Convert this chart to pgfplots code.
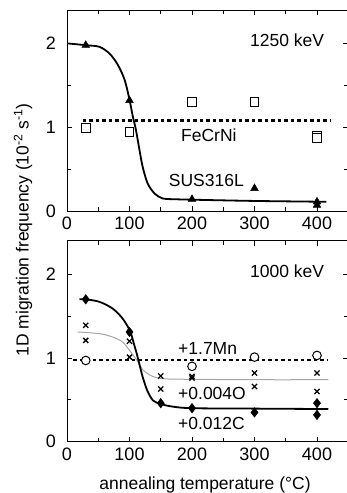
\documentclass[border=0pt]{standalone}
\usepackage{pgfplots}
\pgfplotsset{compat=1.18}
\usepackage{fontspec}
\setmainfont{Liberation Sans}
\begin{document}
\fontsize{17.5}{20}\selectfont
\begin{tikzpicture}
\pgfplotsset{
  myax/.style={
    scale only axis, width=281.25pt, height=201pt,
    xmin=0,xmax=450,ymin=0,ymax=2.4,
    xtick={0,100,...,400}, minor xtick={50,150,250,350},
    ytick={0,1,2}, minor ytick={0.5,1.5},
    tick align=inside, major tick length=5pt, minor tick length=4pt,
    axis line style={line width=0.9pt},
    every tick/.style={line width=0.9pt, black},
    /pgf/number format/assume math mode=true,
    tick label style={font=\fontsize{18}{20}\selectfont},
    yticklabel style={xshift=-5pt},
    clip=false,
    font=\fontsize{17.5}{20}\selectfont,
  }
}
% top panel
\begin{axis}[myax, at={(67pt,282pt)}, anchor=south west]
\addplot[black, line width=2.2pt, dash pattern=on 3.5pt off 3pt] coordinates {(25,1.08)(423,1.08)};
\addplot[black, line width=1.8pt, smooth, tension=0.5] coordinates {(2,2.00)(30,1.98)(52,1.96)(68,1.88)(81,1.75)(92,1.57)(100,1.33)(105,1.14)(110,0.98)(115,0.77)(121,0.53)(129,0.33)(140,0.21)(153,0.15)(174,0.14)(200,0.135)(300,0.12)(415,0.11)};
\addplot[only marks, mark=triangle*, mark size=4.5pt, black] coordinates {(30,1.98)(100,1.32)(200,0.14)(300,0.27)(400,0.11)(400,0.07)};
\addplot[only marks, mark=square*, mark size=4.3pt, mark options={fill=white, draw=black, line width=1pt}] coordinates {(30,0.99)(100,0.94)(200,1.30)(300,1.30)(400,0.90)(400,0.87)};
\node[anchor=east] at (axis cs:421,2.04) {1250 keV};
\node at (axis cs:227,0.90) {FeCrNi};
\node at (axis cs:223,0.37) {SUS316L};
\end{axis}
% bottom panel
\begin{axis}[myax, at={(67pt,51.3pt)}, anchor=south west]
\addplot[black, line width=2.2pt, dash pattern=on 3.5pt off 3pt] coordinates {(10,0.98)(418,0.98)};
\addplot[gray!70, line width=1pt, smooth, tension=0.5] coordinates {(17,1.31)(52,1.29)(73,1.25)(89,1.19)(101,1.08)(113,0.96)(121,0.86)(137,0.78)(158,0.75)(200,0.745)(300,0.74)(418,0.74)};
\addplot[black, line width=1.8pt, smooth, tension=0.5] coordinates {(20,1.70)(30,1.70)(52,1.67)(73,1.59)(89,1.47)(101,1.32)(107,1.17)(112,1.04)(117,0.89)(122,0.75)(129,0.60)(138,0.49)(150,0.45)(168,0.42)(200,0.40)(300,0.395)(418,0.39)};
\addplot[only marks, mark=x, mark size=3.6pt, black, mark options={line width=1.3pt}] coordinates {(30,1.39)(30,1.21)(100,1.20)(100,1.01)(150,0.785)(150,0.63)(200,0.78)(200,0.76)(300,0.82)(300,0.66)(400,0.82)(400,0.60)};
\addplot[only marks, mark=*, mark size=4.3pt, mark options={fill=white, draw=black, line width=1pt}] coordinates {(30,0.97)(200,0.90)(300,1.01)(400,1.03)};
\addplot[only marks, mark=diamond*, mark size=4.8pt, black] coordinates {(30,1.70)(100,1.31)(150,0.46)(200,0.40)(300,0.35)(400,0.46)(400,0.32)};
\node[anchor=east] at (axis cs:421,2.04) {1000 keV};
\node at (axis cs:225,1.11) {+1.7Mn};
\node at (axis cs:232,0.58) {+0.004O};
\node at (axis cs:231,0.22) {+0.012C};
\end{axis}
\node[rotate=90] at (23pt,263pt) {1D migration frequency (10\textsuperscript{-2} s\textsuperscript{-1})};
\node at (205pt,8pt) {annealing temperature (°C)};
\pgfresetboundingbox
\useasboundingbox (0pt,0pt) rectangle (347pt,493pt);
\end{tikzpicture}
\end{document}
